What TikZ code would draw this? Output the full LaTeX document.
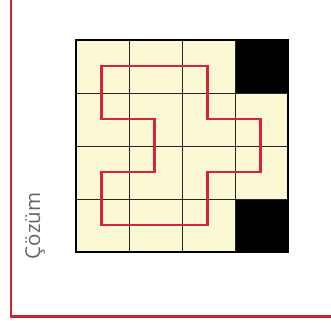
\documentclass[tikz,border=0pt]{standalone}
\usepackage{fontspec}
\setsansfont{Open Sans}
\usetikzlibrary{positioning}
\definecolor{cellcream}{HTML}{FBF8D4}
\definecolor{loopred}{HTML}{D9223F}
\definecolor{framered}{HTML}{C9252F}
\tikzset{
  gridline/.style={line width=0.8pt, black!85},
  loopline/.style={loopred, line width=2.7pt, line join=miter},
}

\begin{document}
\begin{tikzpicture}[x=1pt, y=-1pt]
\useasboundingbox (0,0) rectangle (331,322);
% frame
\draw[framered, line width=2.3pt] (11,-3) -- (11,316.5) -- (334,316.5);

% cells
\foreach \c in {0,...,3}
  \foreach \r in {0,...,3}
    \fill[cellcream] (76+53*\c, 40+53*\r) rectangle ++(53,53);
\fill[black] (235,40) rectangle (288,93);
\fill[black] (235,199) rectangle (288,252);

% grid
\foreach \i in {1,2,3} {
  \draw[gridline] (76+53*\i, 40) -- (76+53*\i, 252);
  \draw[gridline] (76, 40+53*\i) -- (288, 40+53*\i);
}
\draw[line width=1.3pt] (76,40) rectangle (288,252);

% centres of the cells
\foreach \c in {1,...,4}
  \foreach \r in {1,...,4}
    \coordinate (c\c\r) at (101.5+53*\c-53, 66+53*\r-53);

% solution loop
\draw[loopline] (c11) -- (c31) -- (c32) -- (c42) -- (c43) -- (c33) -- (c34)
  -- (c14) -- (c13) -- (c23) -- (c22) -- (c12) -- cycle;

\node[rotate=90, text=black!60, font=\sffamily\fontsize{20.5}{20.5}\selectfont] (label) at (35,226) {Çözüm};
\end{tikzpicture}
\end{document}
